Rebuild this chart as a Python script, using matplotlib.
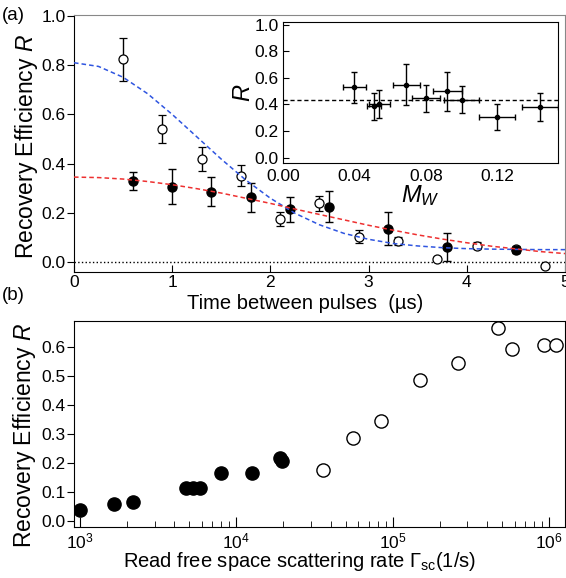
import numpy as np
import matplotlib
matplotlib.use("Agg")
import matplotlib.pyplot as plt
from matplotlib.ticker import LogLocator, NullFormatter

plt.rcParams['font.family'] = ['Liberation Sans', 'DejaVu Sans']
plt.rcParams['mathtext.fontset'] = 'custom'
plt.rcParams['mathtext.rm'] = 'Liberation Sans'
plt.rcParams['mathtext.it'] = 'Liberation Sans:italic'

# ---------------- panel (a): main data ----------------
t_open = [0.5, 0.9, 1.3, 1.7, 2.1, 2.5, 2.9, 3.3, 3.7, 4.1, 4.5, 4.8]
r_open = [0.824, 0.542, 0.417, 0.351, 0.175, 0.238, 0.103, 0.085, 0.012, 0.066, 0.053, -0.015]
e_open = [0.088, 0.057, 0.049, 0.043, 0.029, 0.032, 0.025, 0.016, 0.010, 0.014, 0.013, 0.008]

t_fill = [0.6, 1.0, 1.4, 1.8, 2.2, 2.6, 3.2, 3.8, 4.5]
r_fill = [0.329, 0.306, 0.286, 0.263, 0.214, 0.225, 0.135, 0.062, 0.049]
e_fill = [0.036, 0.070, 0.059, 0.058, 0.052, 0.062, 0.066, 0.057, 0.012]

# fit curves
t_fit = [0.0, 0.25, 0.5, 0.75, 1.0, 1.25, 1.5, 1.75, 2.0, 2.25, 2.5, 2.75,
         3.0, 3.25, 3.5, 3.75, 4.0, 4.25, 4.5, 4.75, 5.0]
r_fit_blue = [0.810, 0.795, 0.751, 0.684, 0.600, 0.509, 0.418, 0.333, 0.259, 0.198,
              0.151, 0.116, 0.092, 0.075, 0.065, 0.058, 0.054, 0.052, 0.051, 0.050, 0.050]
r_fit_red = [0.345, 0.343, 0.337, 0.327, 0.314, 0.298, 0.280, 0.259, 0.238, 0.215,
             0.193, 0.171, 0.149, 0.129, 0.110, 0.093, 0.078, 0.064, 0.053, 0.042, 0.034]

# ---------------- inset ----------------
mw = [0.040, 0.051, 0.054, 0.069, 0.080, 0.092, 0.100, 0.120, 0.144]
mw_err = [0.0065, 0.004, 0.006, 0.0075, 0.008, 0.008, 0.010, 0.010, 0.010]
r_in = [0.528, 0.386, 0.404, 0.549, 0.446, 0.499, 0.436, 0.306, 0.378]
r_in_err = [0.115, 0.100, 0.105, 0.155, 0.100, 0.145, 0.100, 0.100, 0.105]
r_in_mean = 0.436

# ---------------- panel (b) ----------------
g_fill = [1000, 1650, 2190, 4750, 5250, 5850, 8030, 12600, 18960, 19440]
rb_fill = [0.037, 0.056, 0.065, 0.114, 0.112, 0.114, 0.166, 0.163, 0.215, 0.206]
g_open = [35600, 55700, 84500, 150000, 261000, 470000, 578000, 927000, 1110000]
rb_open = [0.175, 0.284, 0.344, 0.486, 0.545, 0.666, 0.592, 0.605, 0.605]

fig = plt.figure(figsize=(5.66, 5.78), dpi=100)

# ===== panel (a) =====
ax = fig.add_axes([0.1307, 0.5294, 0.8675, 0.4446])
ax.errorbar(t_open, r_open, yerr=e_open, fmt="o", mfc="white", mec="black", ms=6.5,
            mew=0.9, ecolor="black", elinewidth=1.0, capsize=3, capthick=1.0, zorder=3)
ax.errorbar(t_fill, r_fill, yerr=e_fill, fmt="o", mfc="black", mec="black", ms=6.5,
            ecolor="black", elinewidth=1.0, capsize=3, capthick=1.0, zorder=3)
ax.plot(t_fit, r_fit_blue, "--", color="#2f55e0", lw=1.1, dashes=(3, 2), zorder=4)
ax.plot(t_fit, r_fit_red, "--", color="#ee3030", lw=1.1, dashes=(3, 2), zorder=4)
ax.axhline(0, color="black", ls=":", lw=1.0, zorder=1)
ax.set_xlim(0, 5)
ax.set_ylim(-0.041, 1.004)
ax.set_xticks([0, 1, 2, 3, 4, 5])
ax.set_yticks([0.0, 0.2, 0.4, 0.6, 0.8, 1.0])
ax.set_yticklabels(["0.0", "0.2", "0.4", "0.6", "0.8", "1.0"])
ax.tick_params(axis="x", direction="in", length=5, labelsize=12.5, pad=2)
ax.tick_params(axis="y", direction="out", length=5, labelsize=12.5, pad=1)
ax.spines["top"].set_color("#888888")
ax.spines["right"].set_color("#888888")
ax.set_xlabel("Time between pulses  (\u00b5s)", fontsize=14.5, labelpad=0)
ax.xaxis.set_label_coords(0.47, -0.085)

# ===== inset =====
axi = fig.add_axes([0.500, 0.718, 0.486, 0.244])
axi.errorbar(mw, r_in, xerr=mw_err, yerr=r_in_err, fmt="o", color="black", ms=3,
             elinewidth=1.0, capsize=2.5, capthick=1.0)
axi.axhline(r_in_mean, color="black", ls="--", lw=1.0, dashes=(3, 2))
axi.set_xlim(0, 0.154)
axi.set_ylim(-0.04, 1.02)
axi.set_xticks([0.00, 0.04, 0.08, 0.12])
axi.set_xticklabels(["0.00", "0.04", "0.08", "0.12"])
axi.set_yticks([0.0, 0.2, 0.4, 0.6, 0.8, 1.0])
axi.set_yticklabels(["0.0", "0.2", "0.4", "0.6", "0.8", "1.0"])
axi.tick_params(axis="x", direction="in", length=0, labelsize=12.5, pad=4)
axi.tick_params(axis="y", direction="in", length=4, labelsize=12.5, pad=3)
axi.set_xlabel("$M_W$", fontsize=17, labelpad=0)
axi.set_ylabel("$R$", fontsize=17, labelpad=0)

# ===== panel (b) =====
axb = fig.add_axes([0.1307, 0.0877, 0.8675, 0.3570])
axb.plot(g_fill, rb_fill, "o", mfc="black", mec="black", ms=9.5)
axb.plot(g_open, rb_open, "o", mfc="white", mec="black", ms=9.5, mew=1.0)
axb.set_xscale("log")
axb.set_xlim(916, 1.26e6)
axb.set_ylim(-0.023, 0.689)
axb.set_yticks([0.0, 0.1, 0.2, 0.3, 0.4, 0.5, 0.6])
axb.set_yticklabels(["0.0", "0.1", "0.2", "0.3", "0.4", "0.5", "0.6"])
axb.xaxis.set_major_locator(LogLocator(base=10, numticks=10))
axb.xaxis.set_minor_locator(LogLocator(base=10, subs=np.arange(2, 10), numticks=20))
axb.xaxis.set_minor_formatter(NullFormatter())
axb.tick_params(axis="x", which="major", direction="in", length=7, labelsize=12.5, pad=3)
axb.tick_params(axis="x", which="minor", direction="in", length=4)
axb.tick_params(axis="y", direction="out", length=5, labelsize=12.5, pad=1)
axb.set_xlabel(r"Read free space scattering rate $\Gamma_{\rm sc}$(1/s)", fontsize=14.5,
               labelpad=-1)
axb.xaxis.set_label_coords(0.46, -0.11)

# y labels and panel tags
fig.text(0.047, 1 - 146 / 578, "Recovery Efficiency $R$", rotation=90, fontsize=16.5,
         ha="center", va="center")
fig.text(0.044, 1 - 435 / 578, "Recovery Efficiency $R$", rotation=90, fontsize=16.5,
         ha="center", va="center")
fig.text(0.004, 1 - 15 / 578, "(a)", fontsize=13.5, ha="left", va="center")
fig.text(0.004, 1 - 295 / 578, "(b)", fontsize=13.5, ha="left", va="center")

fig.savefig("out.png", dpi=100)
